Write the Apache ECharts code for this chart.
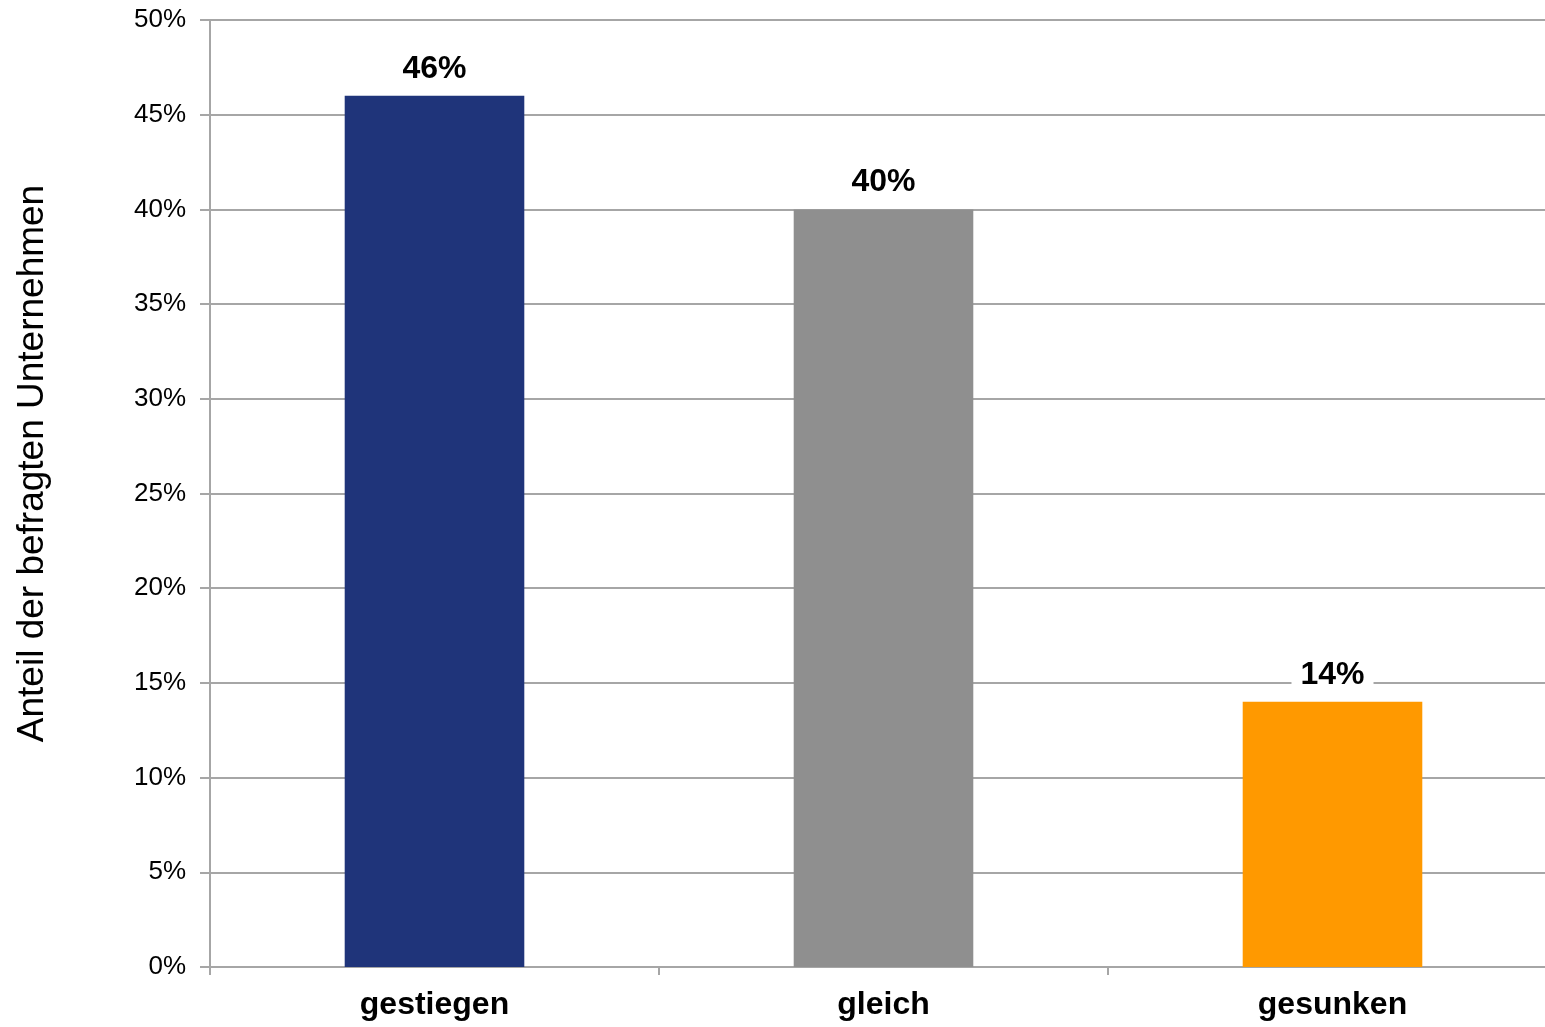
<!DOCTYPE html>
<html>
<head>
<meta charset="utf-8">
<script src="https://cdn.jsdelivr.net/npm/echarts@6/dist/echarts.min.js"></script>
<style>html,body{margin:0;padding:0;background:#fff;overflow:hidden;width:1545px;height:1027px}#c{width:1557px;height:1027px}</style>
</head>
<body>
<div id="c"></div>
<script>
const categories = ['gestiegen', 'gleich', 'gesunken'];
const values = [46, 40, 14];
const colors = ['#1f347a', '#8f8f8f', '#ff9900'];
const yTicks = [0, 5, 10, 15, 20, 25, 30, 35, 40, 45, 50];
const yAxisTitle = 'Anteil der befragten Unternehmen';

const chart = echarts.init(document.getElementById('c'));
chart.setOption({
  animation: false,
  backgroundColor: '#fff',
  textStyle: { fontFamily: 'Liberation Sans, Arial, sans-serif' },
  grid: { left: 210, top: 20, right: 0, bottom: 60, containLabel: false },
  xAxis: {
    type: 'category',
    data: categories,
    axisLine: { show: true, lineStyle: { color: '#a6a6a6', width: 2 } },
    axisTick: { show: true, length: 8, lineStyle: { color: '#a6a6a6', width: 2 } },
    axisLabel: { margin: 22, fontSize: 32, fontWeight: 'bold', color: '#000' }
  },
  yAxis: {
    type: 'value',
    min: yTicks[0],
    max: yTicks[yTicks.length - 1],
    interval: 5,
    name: yAxisTitle,
    nameLocation: 'middle',
    nameGap: 159,
    nameRotate: 90,
    nameTextStyle: { fontSize: 37, color: '#000', padding: [0, 0, 0, 60] },
    axisLine: { show: true, lineStyle: { color: '#a6a6a6', width: 2 } },
    axisTick: { show: true, length: 10, lineStyle: { color: '#a6a6a6', width: 2 } },
    axisLabel: { margin: 24, fontSize: 26, color: '#000', formatter: v => v + '%' },
    splitLine: { show: true, lineStyle: { color: '#a6a6a6', width: 2 } }
  },
  series: [{
    type: 'bar',
    barWidth: '40%',
    data: values.map((v, i) => ({ value: v, itemStyle: { color: colors[i] } })),
    label: {
      show: true,
      position: 'top',
      distance: 9,
      formatter: p => p.value + '%',
      fontSize: 32,
      fontWeight: 'bold',
      color: '#000',
      backgroundColor: '#fff',
      padding: [2, 9]
    }
  }]
});
</script>
</body>
</html>
